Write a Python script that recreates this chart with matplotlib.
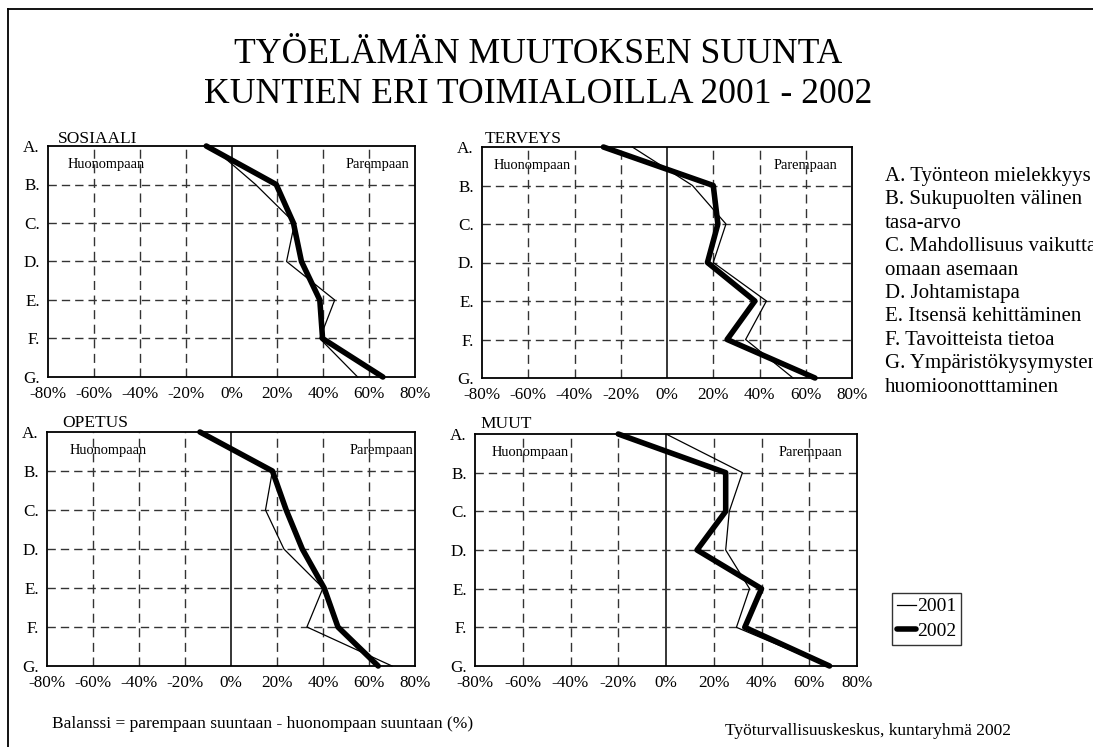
import matplotlib
matplotlib.use("Agg")
import matplotlib.pyplot as plt
from matplotlib.lines import Line2D

plt.rcParams['font.family'] = ['Liberation Serif', 'DejaVu Serif']
plt.rcParams['lines.scale_dashes'] = False

# ---------------- data ----------------
categories = ['A.', 'B.', 'C.', 'D.', 'E.', 'F.', 'G.']
x_ticks = [-80, -60, -40, -20, 0, 20, 40, 60, 80]

panel_names = ['SOSIAALI', 'TERVEYS', 'OPETUS', 'MUUT']
years = ['2001', '2002']

sosiaali_2001 = [-9, 10.5, 27.5, 24, 45, 38.5, 55]
sosiaali_2002 = [-11, 19.5, 27, 30.5, 38.5, 39.7, 66]
terveys_2001 = [-15, 11, 25.5, 20, 43, 34, 54.5]
terveys_2002 = [-27.5, 20, 22, 17.5, 38, 26, 64]
opetus_2001 = [-13, 18, 15, 23, 40, 33, 70]
opetus_2002 = [-13.5, 18, 24, 31, 40.5, 46.5, 64]
muut_2001 = [0, 32, 26.5, 25, 35, 29.5, 68]
muut_2002 = [-20, 25, 25, 13, 40, 33, 68.5]

series_2001 = [sosiaali_2001, terveys_2001, opetus_2001, muut_2001]
series_2002 = [sosiaali_2002, terveys_2002, opetus_2002, muut_2002]

title_lines = ['TYÖELÄMÄN MUUTOKSEN SUUNTA',
               'KUNTIEN ERI TOIMIALOILLA 2001 - 2002']
worse_label = 'Huonompaan'
better_label = 'Parempaan'
category_descriptions = [
    'A. Työnteon mielekkyys',
    'B. Sukupuolten välinen',
    'tasa-arvo',
    'C. Mahdollisuus vaikuttaa',
    'omaan asemaan',
    'D. Johtamistapa',
    'E. Itsensä kehittäminen',
    'F. Tavoitteista tietoa',
    'G. Ympäristökysymysten',
    'huomioonotttaminen',
]
footnote_left = 'Balanssi = parempaan suuntaan - huonompaan suuntaan (%)'
footnote_right = 'Työturvallisuuskeskus, kuntaryhmä 2002'

# ---------------- layout (pixels) ----------------
W, H = 1093, 747
fig = plt.figure(figsize=(W / 100, H / 100), dpi=100)
fig.patch.set_facecolor('white')

def fx(px):
    return px / W

def fy(py):
    return 1 - py / H

# left, right, top, bottom in pixels
boxes = [(48, 415, 146, 377), (482, 852, 147, 378),
         (47, 415, 432, 666), (475, 857, 434, 666)]
title_pos = [(58, 143), (485, 143), (62, 427), (480, 428)]
worse_x = [-71.3, -74.8, -70, -72.9]
better_x = [77.4, 73.5, 79.1, 73.7]

ypos = list(range(len(categories)))
lines_for_legend = None
for i, (l, r, t, b) in enumerate(boxes):
    ax = fig.add_axes([fx(l), fy(b), fx(r - l), (b - t) / H])
    ax.set_xlim(x_ticks[0], x_ticks[-1])
    ax.set_ylim(len(categories) - 1, 0)
    ax.set_xticks(x_ticks)
    ax.set_xticklabels([f'{v}%' for v in x_ticks])
    ax.set_yticks(ypos)
    ax.set_yticklabels(categories)
    ax.tick_params(axis='x', length=0, pad=6.5, labelsize=12.3)
    ax.tick_params(axis='y', length=0, pad=5.8, labelsize=12.3)
    for s in ax.spines.values():
        s.set_linewidth(1.3)
        s.set_color('black')
    # grid
    for v in x_ticks[1:-1]:
        if v == 0:
            ax.axvline(0, color='black', lw=1.1, zorder=2)
        else:
            ax.axvline(v, color='#333333', lw=1.0, linestyle=(0, (6.5, 4.0)), zorder=2)
    for yv in ypos[1:-1]:
        ax.axhline(yv, color='#333333', lw=1.0, linestyle=(0, (6.0, 3.6)), zorder=2)
    # inner labels
    ax.text(worse_x[i], 0.47, worse_label, fontsize=10.4, ha='left', va='center', zorder=1)
    ax.text(better_x[i], 0.47, better_label, fontsize=10.4, ha='right', va='center', zorder=1)
    # data
    l1, = ax.plot(series_2001[i], ypos, color='black', lw=0.9, zorder=5, clip_on=False,
                  label=years[0])
    l2, = ax.plot(series_2002[i], ypos, color='black', lw=4.0, zorder=4, clip_on=False,
                  solid_capstyle='round', solid_joinstyle='round', label=years[1])
    lines_for_legend = [l1, l2]
    # panel title
    fig.text(fx(title_pos[i][0]), fy(title_pos[i][1]), panel_names[i], fontsize=12.5,
             ha='left', va='baseline')

# title
fig.text(fx(538), fy(63), title_lines[0], fontsize=25.7, ha='center', va='baseline')
fig.text(fx(538), fy(103), title_lines[1], fontsize=25.7, ha='center', va='baseline')

# category descriptions
for k, txt in enumerate(category_descriptions):
    fig.text(fx(885), fy(181 + k * 23.4), txt, fontsize=15, ha='left', va='baseline')

# legend
leg = fig.legend(lines_for_legend, years, loc='upper left',
                 bbox_to_anchor=(fx(892), fy(593)), borderaxespad=0,
                 frameon=True, fancybox=False, edgecolor='black', fontsize=14,
                 handlelength=1.0, handletextpad=0.05, borderpad=0.25,
                 labelspacing=0.35)
leg.get_frame().set_linewidth(1.0)

# footnotes
fig.text(fx(52), fy(728), footnote_left, fontsize=12.5, ha='left', va='baseline')
fig.text(fx(725), fy(735), footnote_right, fontsize=12.5, ha='left', va='baseline')

# frame
fig.add_artist(Line2D([fx(8), fx(8)], [fy(9), 0], color='black', lw=1.3))
fig.add_artist(Line2D([fx(8), 1], [fy(9), fy(9)], color='black', lw=1.3))

fig.savefig('out.png', dpi=100)
